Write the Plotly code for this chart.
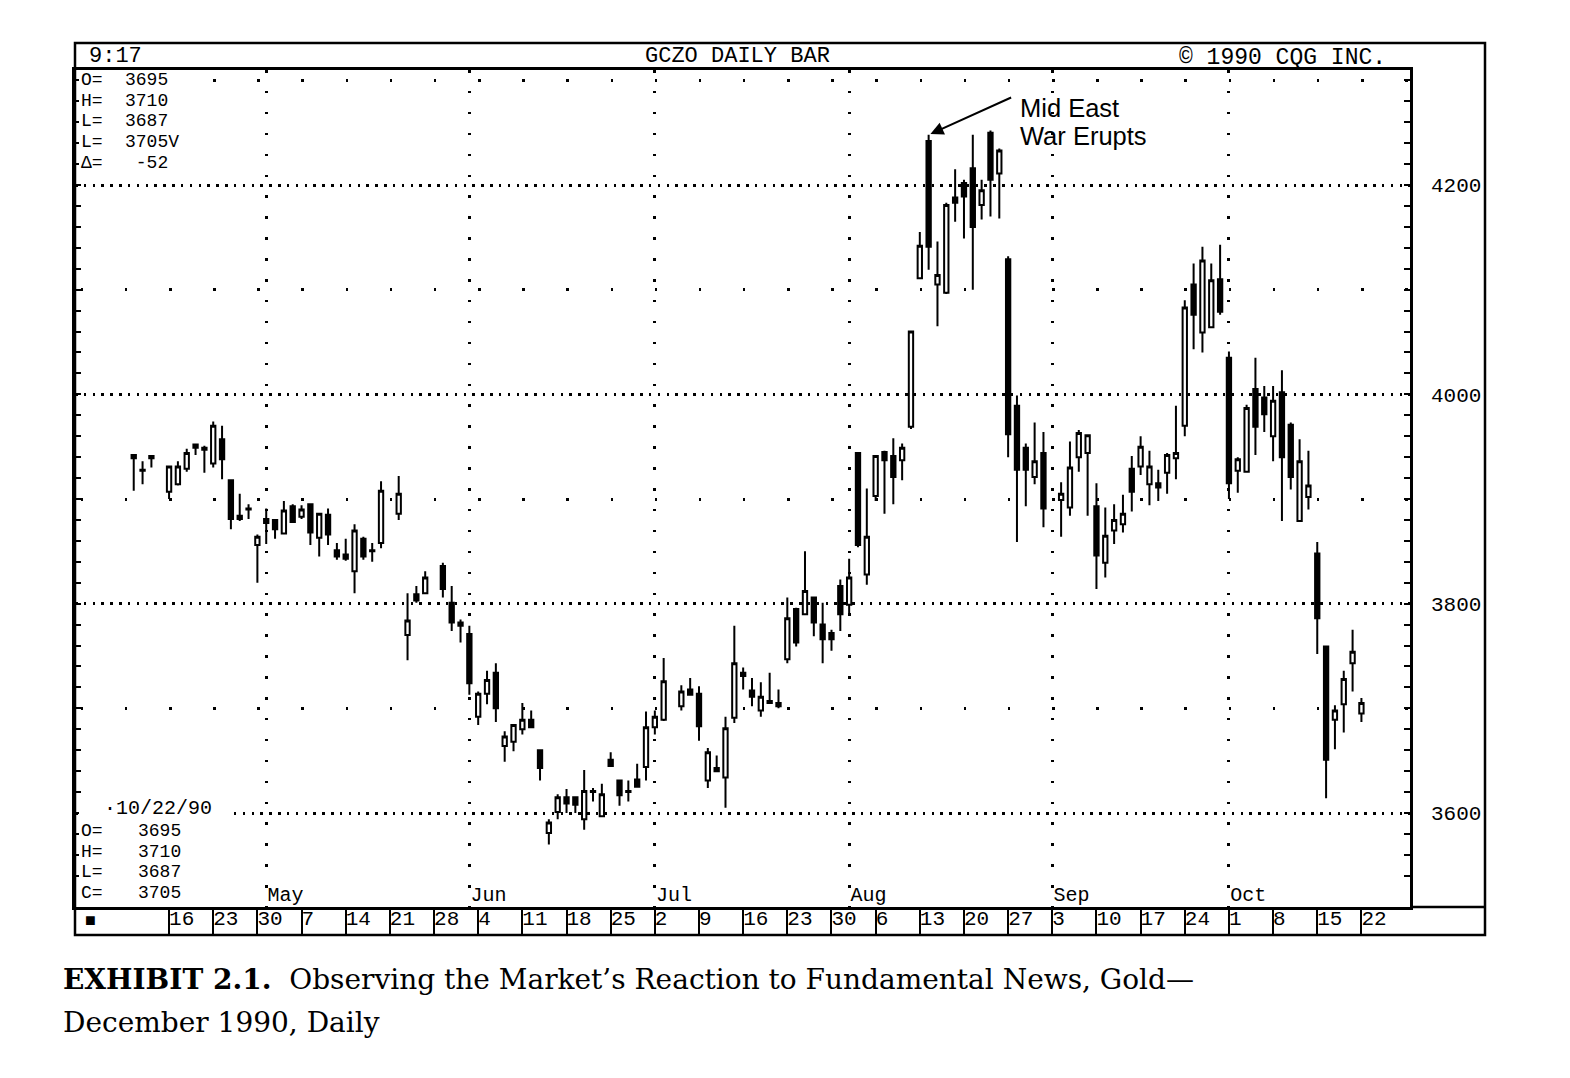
import numpy as np
import pandas as pd
import plotly.graph_objects as go

# ---------------- data ----------------
dates = [
    "1990-04-10", "1990-04-11", "1990-04-12", "1990-04-16", "1990-04-17", "1990-04-18", "1990-04-19", "1990-04-20",
    "1990-04-23", "1990-04-24", "1990-04-25", "1990-04-26", "1990-04-27", "1990-04-30", "1990-05-01", "1990-05-02",
    "1990-05-03", "1990-05-04", "1990-05-07", "1990-05-08", "1990-05-09", "1990-05-10", "1990-05-11", "1990-05-14",
    "1990-05-15", "1990-05-16", "1990-05-17", "1990-05-18", "1990-05-22", "1990-05-23", "1990-05-24", "1990-05-25",
    "1990-05-29", "1990-05-30", "1990-05-31", "1990-06-01", "1990-06-04", "1990-06-05", "1990-06-06", "1990-06-07",
    "1990-06-08", "1990-06-11", "1990-06-12", "1990-06-13", "1990-06-14", "1990-06-15", "1990-06-18", "1990-06-19",
    "1990-06-20", "1990-06-21", "1990-06-22", "1990-06-25", "1990-06-26", "1990-06-27", "1990-06-28", "1990-06-29",
    "1990-07-02", "1990-07-03", "1990-07-05", "1990-07-06", "1990-07-09", "1990-07-10", "1990-07-11", "1990-07-12",
    "1990-07-13", "1990-07-16", "1990-07-17", "1990-07-18", "1990-07-19", "1990-07-20", "1990-07-23", "1990-07-24",
    "1990-07-25", "1990-07-26", "1990-07-27", "1990-07-30", "1990-07-31", "1990-08-01", "1990-08-02", "1990-08-03",
    "1990-08-06", "1990-08-07", "1990-08-08", "1990-08-09", "1990-08-10", "1990-08-13", "1990-08-14", "1990-08-15",
    "1990-08-16", "1990-08-17", "1990-08-20", "1990-08-21", "1990-08-22", "1990-08-23", "1990-08-24", "1990-08-27",
    "1990-08-28", "1990-08-29", "1990-08-30", "1990-08-31", "1990-09-04", "1990-09-05", "1990-09-06", "1990-09-07",
    "1990-09-10", "1990-09-11", "1990-09-12", "1990-09-13", "1990-09-14", "1990-09-17", "1990-09-18", "1990-09-19",
    "1990-09-20", "1990-09-21", "1990-09-24", "1990-09-25", "1990-09-26", "1990-09-27", "1990-09-28", "1990-10-01",
    "1990-10-02", "1990-10-03", "1990-10-04", "1990-10-05", "1990-10-08", "1990-10-09", "1990-10-10", "1990-10-11",
    "1990-10-12", "1990-10-15", "1990-10-16", "1990-10-17", "1990-10-18", "1990-10-19", "1990-10-22",
]
opens = [
    3942, 3928, 3941, 3907, 3914, 3929, 3952, 3949, 3934, 3957, 3918, 3884, 3891, 3856, 3881, 3880,
    3867, 3893, 3883, 3895, 3863, 3885, 3851, 3847, 3831, 3862, 3851, 3858, 3886, 3770, 3809, 3810,
    3836, 3801, 3782, 3771, 3692, 3714, 3734, 3664, 3668, 3680, 3689, 3660, 3581, 3601, 3615, 3615,
    3594, 3621, 3597, 3651, 3631, 3621, 3632, 3644, 3682, 3689, 3702, 3718, 3714, 3631, 3643, 3634,
    3691, 3734, 3717, 3698, 3707, 3705, 3747, 3795, 3790, 3806, 3780, 3772, 3817, 3799, 3944, 3828,
    3903, 3945, 3941, 3937, 3969, 4111, 4242, 4105, 4097, 4188, 4202, 4216, 4181, 4250, 4211, 4129,
    3989, 3949, 3921, 3944, 3899, 3892, 3940, 3944, 3893, 3839, 3870, 3876, 3929, 3931, 3914, 3915,
    3925, 3939, 3970, 4105, 4059, 4064, 4110, 4035, 3927, 3926, 4005, 3997, 3960, 4002, 3971, 3879,
    3902, 3848, 3759, 3689, 3704, 3743, 3695,
]
highs = [
    3943, 3936, 3942, 3932, 3936, 3948, 3953, 3951, 3974, 3970, 3919, 3905, 3895, 3866, 3891, 3881,
    3898, 3895, 3894, 3896, 3886, 3891, 3858, 3862, 3876, 3864, 3858, 3917, 3922, 3810, 3817, 3831,
    3839, 3817, 3785, 3779, 3716, 3736, 3743, 3678, 3685, 3705, 3698, 3661, 3594, 3618, 3623, 3616,
    3641, 3624, 3628, 3658, 3632, 3631, 3647, 3697, 3698, 3748, 3722, 3729, 3721, 3662, 3655, 3692,
    3779, 3739, 3729, 3725, 3734, 3718, 3806, 3796, 3850, 3806, 3801, 3775, 3823, 3843, 3945, 3910,
    3942, 3946, 3958, 3953, 4061, 4155, 4248, 4146, 4183, 4215, 4205, 4248, 4205, 4252, 4235, 4132,
    3999, 3953, 3973, 3964, 3916, 3955, 3966, 3961, 3915, 3892, 3895, 3904, 3941, 3960, 3946, 3928,
    3944, 3989, 4090, 4125, 4141, 4125, 4143, 4041, 3940, 3990, 4035, 4008, 4008, 4023, 3973, 3957,
    3946, 3859, 3759, 3703, 3736, 3775, 3710,
]
lows = [
    3908, 3914, 3930, 3900, 3913, 3926, 3942, 3925, 3930, 3919, 3871, 3879, 3881, 3820, 3857, 3862,
    3866, 3877, 3881, 3856, 3845, 3856, 3842, 3841, 3810, 3842, 3840, 3853, 3880, 3746, 3801, 3809,
    3806, 3774, 3763, 3713, 3684, 3704, 3687, 3649, 3659, 3675, 3681, 3631, 3570, 3594, 3600, 3600,
    3584, 3611, 3597, 3645, 3607, 3611, 3625, 3631, 3675, 3688, 3698, 3713, 3669, 3624, 3639, 3605,
    3686, 3718, 3702, 3692, 3705, 3700, 3743, 3759, 3790, 3769, 3743, 3755, 3774, 3791, 3854, 3818,
    3898, 3886, 3895, 3918, 3967, 4111, 4119, 4065, 4096, 4165, 4149, 4100, 4167, 4170, 4168, 3940,
    3859, 3893, 3914, 3873, 3864, 3884, 3926, 3884, 3814, 3825, 3857, 3868, 3888, 3923, 3894, 3898,
    3905, 3919, 3960, 4043, 4040, 4064, 4076, 3900, 3906, 3926, 3942, 3964, 3936, 3879, 3909, 3879,
    3890, 3752, 3614, 3661, 3677, 3716, 3687,
]
closes = [
    3939, 3927, 3939, 3931, 3931, 3944, 3949, 3947, 3970, 3938, 3881, 3881, 3890, 3864, 3877, 3871,
    3889, 3878, 3890, 3868, 3886, 3866, 3845, 3843, 3870, 3845, 3850, 3908, 3905, 3784, 3803, 3825,
    3814, 3782, 3779, 3724, 3714, 3727, 3700, 3673, 3684, 3689, 3682, 3643, 3591, 3615, 3609, 3608,
    3621, 3620, 3618, 3645, 3617, 3620, 3625, 3682, 3692, 3726, 3716, 3713, 3683, 3658, 3640, 3681,
    3743, 3731, 3711, 3711, 3705, 3702, 3786, 3763, 3812, 3782, 3766, 3766, 3790, 3825, 3856, 3864,
    3941, 3937, 3921, 3949, 4060, 4142, 4141, 4114, 4181, 4183, 4189, 4160, 4195, 4205, 4233, 3962,
    3928, 3928, 3936, 3891, 3905, 3930, 3963, 3961, 3846, 3865, 3880, 3886, 3907, 3950, 3931, 3911,
    3942, 3944, 4083, 4076, 4128, 4109, 4079, 3915, 3938, 3987, 3969, 3981, 3994, 3940, 3921, 3936,
    3913, 3786, 3651, 3698, 3728, 3754, 3705,
]

month_dates = ["1990-05-01", "1990-06-01", "1990-07-02", "1990-08-01", "1990-09-03", "1990-10-01"]
month_labels = ["May", "Jun", "Jul", "Aug", "Sep", "Oct"]
week_starts = pd.date_range("1990-04-16", "1990-10-22", freq="W-MON")
week_labels = [str(d.day) for d in week_starts]
price_ticks = [3600, 3800, 4000, 4200]
half_levels = [3700, 3900, 4100, 4300]

info_top_keys = ["O=", "H=", "L=", "L=", "Δ="]
info_top_vals = ["3695", "3710", "3687", "3705V", " -52"]
info_bottom_keys = ["O=", "H=", "L=", "C="]
info_bottom_vals = ["3695", "3710", "3687", "3705"]

# ---------------- helpers ----------------
W, H = 1570, 1078
BASE = "1990-04-16"


def bidx(d):
    return int(np.busday_count(BASE, str(d)[:10]))


def px(x):
    return x / W


def py(y):
    return 1 - y / H


xs = [bidx(d) for d in dates]
month_x = [bidx(d) for d in month_dates]
week_x = [bidx(d) for d in week_starts]

X_RANGE = [-10.65, 140.5]
Y_RANGE = [3510.2, 4309.9]
MONO = "Liberation Mono"

fig = go.Figure()
fig.add_trace(go.Candlestick(
    x=xs, open=opens, high=highs, low=lows, close=closes,
    increasing=dict(line=dict(color="black", width=2), fillcolor="white"),
    decreasing=dict(line=dict(color="black", width=2), fillcolor="black"),
    whiskerwidth=0, showlegend=False, hoverinfo="skip",
))
# empty traces so that the extra axes exist
fig.add_trace(go.Scatter(x=[], y=[], xaxis="x2", yaxis="y2", showlegend=False))
fig.add_trace(go.Scatter(x=[], y=[], xaxis="x", yaxis="y3", showlegend=False))

fig.update_layout(
    width=W, height=H, margin=dict(l=0, r=0, t=0, b=0),
    paper_bgcolor="white", plot_bgcolor="white", showlegend=False,
    xaxis=dict(
        domain=[px(75), px(1410)], range=X_RANGE, anchor="y",
        tickmode="array", tickvals=month_x, ticktext=month_labels,
        ticks="", ticklabelposition="inside right",
        tickfont=dict(family=MONO, size=20, color="black"),
        showgrid=True, gridcolor="black", gridwidth=2.5, griddash="2.5px,18.4px",
        showline=True, linecolor="black", linewidth=2.5, mirror=True,
        zeroline=False, rangeslider=dict(visible=False),
    ),
    yaxis=dict(
        domain=[py(907), py(70)], range=Y_RANGE, side="right", anchor="x",
        tickmode="array", tickvals=price_ticks, ticks="",
        ticklabelstandoff=14,
        tickfont=dict(family=MONO, size=21, color="black"),
        showgrid=True, gridcolor="black", gridwidth=2.5, griddash="2.5px,6.33px",
        showline=True, linecolor="black", linewidth=2.5, mirror=True, zeroline=False,
        minor=dict(tickmode="array", tickvals=half_levels, showgrid=True, gridcolor="black",
                   gridwidth=2.5, griddash="0px,5.7px,2.5px,35.95px", ticks=""),
    ),
    yaxis3=dict(
        overlaying="y", matches="y", anchor="x", side="left",
        tick0=0, dtick=20, ticks="inside", ticklen=6, tickwidth=2, tickcolor="black",
        mirror="ticks", showline=False, showticklabels=False, showgrid=False, zeroline=False,
    ),
    xaxis2=dict(
        domain=[px(75), px(1410)], matches="x", anchor="y2",
        tickmode="array", tickvals=week_x, ticktext=week_labels,
        ticks="", ticklabelposition="inside right",
        tickfont=dict(family=MONO, size=21, color="black"),
        showgrid=True, gridcolor="black", gridwidth=2, showline=False, zeroline=False,
    ),
    yaxis2=dict(
        domain=[py(935), py(907)], range=[0, 1], anchor="x2",
        showticklabels=False, showgrid=False, zeroline=False, showline=False, ticks="",
    ),
)

# frame pieces
fig.add_shape(type="rect", xref="paper", yref="paper", x0=px(75), x1=px(1485), y0=py(935), y1=py(43),
              line=dict(color="black", width=2.5), fillcolor="rgba(0,0,0,0)", layer="above")
fig.add_shape(type="line", xref="paper", yref="paper", x0=px(1410), x1=px(1485), y0=py(907), y1=py(907),
              line=dict(color="black", width=2.5), layer="above")
# white backing behind the two text blocks
fig.add_shape(type="rect", xref="paper", yref="paper", x0=px(79), x1=px(205), y0=py(172), y1=py(73),
              line=dict(width=0), fillcolor="white", layer="above")
fig.add_shape(type="rect", xref="paper", yref="paper", x0=px(79), x1=px(228), y0=py(904), y1=py(798),
              line=dict(width=0), fillcolor="white", layer="above")

ann = []


def text(x, y, s, size=21, family=MONO, xanchor="left", color="black"):
    ann.append(dict(x=px(x), y=py(y), xref="paper", yref="paper", text=s, showarrow=False,
                    xanchor=xanchor, yanchor="middle", borderpad=0,
                    font=dict(family=family, size=size, color=color)))


text(88, 57, "9:17", size=22)
text(737, 57, "GCZO DAILY BAR", size=22, xanchor="center")
text(1178, 58, "© 1990 CQG INC.", size=23)
for i, (k, v) in enumerate(zip(info_top_keys, info_top_vals)):
    text(80, 80 + i * 20.7, k, size=18)
    text(124, 80 + i * 20.7, v, size=18)
text(103, 808, "·10/22/90", size=20)
for i, (k, v) in enumerate(zip(info_bottom_keys, info_bottom_vals)):
    text(80, 831 + i * 20.7, k, size=18)
    text(137, 831 + i * 20.7, v, size=18)

# first box of the week strip
text(84, 921, "■", size=18)

text(1019, 108, "Mid East", size=25.5, family="Liberation Sans")
text(1019, 136, "War Erupts", size=25.5, family="Liberation Sans")

ann.append(dict(x=bidx("1990-08-14"), y=highs[dates.index("1990-08-14")], xref="x", yref="y",
                ax=84, ay=-38, text="", showarrow=True, arrowhead=2, arrowsize=1.3,
                arrowwidth=2, arrowcolor="black", standoff=2))

text(62, 979, "<b>EXHIBIT 2.1.</b>  Observing the Market’s Reaction to Fundamental News, Gold—",
     size=28, family="DejaVu Serif")
text(62, 1022, "December 1990, Daily", size=28, family="DejaVu Serif")

fig.update_layout(annotations=ann)

fig.write_html("out.html", post_script="document.body.style.margin='0';")
